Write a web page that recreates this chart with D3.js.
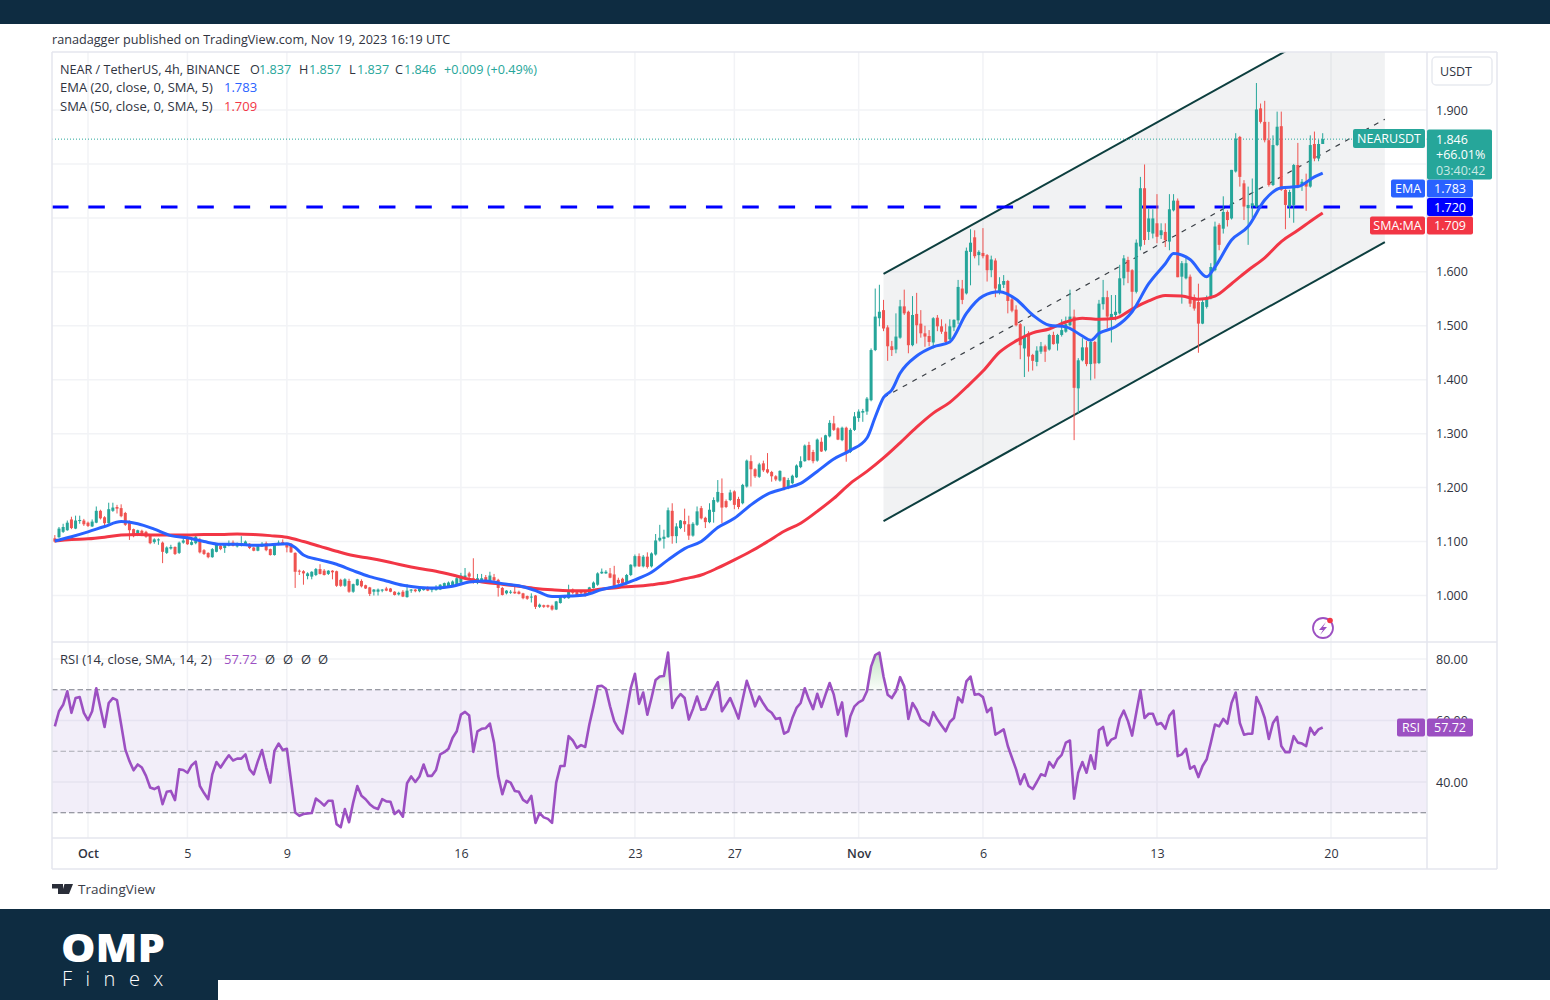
<!DOCTYPE html>
<html>
<head>
<meta charset="utf-8">
<style>
  html, body { margin: 0; padding: 0; background: #fff; }
  svg { display: block; }
  text { font-family: "Open Sans", "Noto Sans", sans-serif; }
</style>
</head>
<body>
<svg id="chart" width="1550" height="1000"></svg>
<script src="https://cdnjs.cloudflare.com/ajax/libs/d3/7.8.5/d3.min.js"></script>
<script type="text/javascript">
// 4h candles, first one is Sep 29 16:00 UTC
const firstCandle = Date.UTC(2023, 8, 29, 16);
const candleHours = 4;

// open, high, low, close
const ohlc = [
  [1.106,1.112,1.098,1.100],[1.108,1.127,1.107,1.124],[1.118,1.133,1.116,1.127],[1.121,1.139,1.120,1.135],
  [1.141,1.146,1.123,1.125],[1.124,1.148,1.123,1.139],[1.138,1.148,1.133,1.140],[1.139,1.142,1.129,1.132],
  [1.135,1.137,1.127,1.129],[1.128,1.141,1.127,1.137],[1.135,1.165,1.134,1.157],[1.157,1.159,1.141,1.143],
  [1.145,1.147,1.128,1.134],[1.134,1.172,1.133,1.160],[1.157,1.172,1.155,1.163],[1.164,1.168,1.152,1.161],
  [1.162,1.169,1.145,1.147],[1.153,1.155,1.129,1.131],[1.137,1.139,1.103,1.121],[1.123,1.124,1.108,1.110],
  [1.112,1.122,1.110,1.121],[1.120,1.122,1.110,1.112],[1.118,1.120,1.107,1.109],[1.112,1.113,1.095,1.097],
  [1.099,1.106,1.096,1.104],[1.103,1.106,1.094,1.104],[1.098,1.100,1.060,1.081],[1.079,1.091,1.077,1.089],
  [1.087,1.094,1.085,1.090],[1.090,1.091,1.075,1.077],[1.079,1.100,1.077,1.098],[1.098,1.106,1.096,1.102],
  [1.106,1.110,1.094,1.095],[1.094,1.103,1.093,1.099],[1.097,1.111,1.095,1.109],[1.103,1.107,1.078,1.080],
  [1.084,1.086,1.075,1.077],[1.079,1.080,1.069,1.071],[1.071,1.088,1.070,1.086],[1.081,1.096,1.080,1.094],
  [1.092,1.094,1.084,1.086],[1.088,1.097,1.079,1.095],[1.092,1.102,1.091,1.096],[1.098,1.102,1.091,1.092],
  [1.091,1.098,1.089,1.097],[1.092,1.110,1.091,1.097],[1.095,1.102,1.093,1.100],[1.096,1.097,1.086,1.088],
  [1.089,1.090,1.082,1.083],[1.083,1.093,1.082,1.092],[1.091,1.099,1.090,1.096],[1.097,1.100,1.082,1.084],
  [1.086,1.087,1.074,1.075],[1.075,1.095,1.074,1.094],[1.094,1.102,1.093,1.098],[1.099,1.104,1.094,1.095],
  [1.095,1.097,1.080,1.089],[1.096,1.097,1.079,1.080],[1.079,1.080,1.014,1.044],[1.046,1.048,1.038,1.045],
  [1.045,1.047,1.020,1.041],[1.036,1.043,1.030,1.041],[1.035,1.045,1.030,1.044],[1.038,1.051,1.036,1.049],
  [1.049,1.058,1.039,1.040],[1.046,1.049,1.037,1.038],[1.040,1.047,1.038,1.046],[1.046,1.047,1.030,1.043],
  [1.045,1.046,1.016,1.018],[1.029,1.031,1.016,1.018],[1.018,1.032,1.016,1.030],[1.027,1.031,1.005,1.007],
  [1.007,1.022,1.005,1.021],[1.019,1.031,1.018,1.030],[1.027,1.030,1.015,1.017],[1.019,1.020,1.012,1.013],
  [1.015,1.016,0.999,1.003],[1.007,1.012,1.000,1.011],[1.007,1.013,1.000,1.011],[1.009,1.012,1.006,1.011],
  [1.013,1.016,1.008,1.009],[1.013,1.014,1.006,1.007],[1.007,1.008,1.000,1.001],[1.002,1.007,1.000,1.005],
  [1.007,1.010,0.997,0.998],[0.997,1.021,0.996,1.009],[1.009,1.012,1.005,1.011],[1.011,1.012,1.006,1.008],
  [1.008,1.014,1.006,1.013],[1.010,1.016,1.009,1.015],[1.015,1.017,1.008,1.009],[1.010,1.014,1.006,1.013],
  [1.010,1.019,1.009,1.016],[1.011,1.021,1.010,1.020],[1.017,1.024,1.016,1.023],[1.017,1.026,1.016,1.024],
  [1.019,1.028,1.018,1.026],[1.020,1.034,1.019,1.032],[1.024,1.042,1.023,1.037],[1.034,1.051,1.032,1.037],
  [1.041,1.044,1.032,1.035],[1.032,1.069,1.022,1.024],[1.023,1.040,1.021,1.032],[1.026,1.040,1.024,1.032],
  [1.034,1.038,1.026,1.028],[1.028,1.044,1.026,1.037],[1.034,1.040,1.027,1.028],[1.029,1.031,0.998,1.014],
  [1.014,1.016,1.000,1.001],[1.004,1.010,1.002,1.009],[1.006,1.010,1.003,1.007],[1.007,1.021,1.003,1.004],
  [1.007,1.009,1.002,1.003],[1.004,1.005,0.993,0.995],[0.999,1.000,0.992,0.994],[0.997,1.004,0.987,0.998],
  [1.000,1.001,0.975,0.979],[0.979,0.985,0.977,0.983],[0.982,0.983,0.977,0.979],[0.982,0.983,0.977,0.979],
  [0.981,0.983,0.972,0.974],[0.974,0.990,0.973,0.989],[0.986,0.998,0.985,0.997],[0.995,1.001,0.994,0.999],
  [0.995,1.020,0.994,1.010],[1.011,1.013,1.002,1.005],[1.007,1.008,0.998,1.001],[1.007,1.009,1.001,1.004],
  [1.007,1.008,0.998,1.001],[1.003,1.016,1.002,1.015],[1.014,1.026,1.013,1.024],[1.020,1.043,1.018,1.041],
  [1.041,1.050,1.040,1.044],[1.041,1.047,1.040,1.044],[1.041,1.051,1.032,1.033],[1.039,1.055,1.013,1.017],
  [1.029,1.033,1.021,1.023],[1.031,1.033,1.020,1.023],[1.022,1.040,1.020,1.038],[1.038,1.058,1.036,1.057],
  [1.054,1.076,1.052,1.073],[1.073,1.078,1.053,1.054],[1.054,1.075,1.052,1.072],[1.072,1.080,1.050,1.053],
  [1.054,1.080,1.052,1.078],[1.076,1.114,1.074,1.102],[1.102,1.131,1.100,1.107],[1.105,1.122,1.087,1.109],
  [1.108,1.163,1.107,1.158],[1.157,1.171,1.096,1.110],[1.110,1.134,1.097,1.128],[1.125,1.140,1.123,1.139],
  [1.138,1.161,1.118,1.132],[1.132,1.148,1.103,1.111],[1.111,1.136,1.109,1.133],[1.131,1.165,1.129,1.156],
  [1.162,1.166,1.141,1.143],[1.144,1.146,1.125,1.136],[1.136,1.171,1.134,1.159],[1.155,1.182,1.135,1.177],
  [1.174,1.214,1.172,1.192],[1.190,1.217,1.134,1.163],[1.175,1.178,1.162,1.164],[1.177,1.196,1.175,1.191],
  [1.193,1.195,1.160,1.168],[1.179,1.183,1.160,1.164],[1.171,1.207,1.169,1.205],[1.202,1.252,1.200,1.250],
  [1.249,1.260,1.202,1.234],[1.234,1.236,1.218,1.221],[1.220,1.246,1.218,1.243],[1.245,1.250,1.229,1.232],
  [1.234,1.264,1.226,1.228],[1.229,1.231,1.211,1.221],[1.221,1.223,1.212,1.215],[1.213,1.232,1.211,1.231],
  [1.219,1.220,1.195,1.199],[1.199,1.218,1.197,1.214],[1.208,1.224,1.206,1.222],[1.219,1.243,1.218,1.241],
  [1.238,1.258,1.236,1.249],[1.249,1.280,1.248,1.278],[1.279,1.285,1.250,1.251],[1.266,1.270,1.245,1.249],
  [1.250,1.291,1.248,1.289],[1.285,1.293,1.266,1.267],[1.269,1.298,1.267,1.297],[1.295,1.325,1.293,1.320],
  [1.319,1.333,1.305,1.307],[1.310,1.312,1.288,1.289],[1.288,1.313,1.286,1.311],[1.311,1.313,1.248,1.266],
  [1.266,1.310,1.264,1.307],[1.307,1.340,1.305,1.332],[1.329,1.345,1.322,1.341],[1.339,1.346,1.322,1.342],
  [1.341,1.368,1.335,1.365],[1.362,1.458,1.360,1.455],[1.455,1.569,1.453,1.517],[1.514,1.576,1.499,1.526],
  [1.529,1.548,1.490,1.495],[1.497,1.501,1.435,1.462],[1.462,1.472,1.444,1.455],[1.456,1.523,1.449,1.480],
  [1.478,1.548,1.476,1.536],[1.536,1.567,1.520,1.523],[1.526,1.528,1.449,1.464],[1.464,1.555,1.462,1.520],
  [1.522,1.561,1.467,1.501],[1.504,1.529,1.478,1.486],[1.486,1.500,1.461,1.480],[1.481,1.492,1.462,1.470],
  [1.469,1.516,1.458,1.514],[1.515,1.520,1.490,1.499],[1.499,1.512,1.485,1.489],[1.489,1.504,1.465,1.470],
  [1.475,1.512,1.473,1.499],[1.497,1.512,1.490,1.511],[1.510,1.585,1.503,1.572],[1.569,1.585,1.540,1.548],
  [1.560,1.645,1.558,1.639],[1.637,1.679,1.575,1.654],[1.664,1.677,1.625,1.629],[1.631,1.640,1.612,1.637],
  [1.635,1.681,1.625,1.629],[1.631,1.633,1.582,1.603],[1.603,1.630,1.590,1.623],[1.621,1.625,1.553,1.569],
  [1.563,1.590,1.558,1.577],[1.576,1.594,1.570,1.583],[1.583,1.585,1.523,1.546],[1.549,1.552,1.525,1.528],
  [1.530,1.538,1.499,1.501],[1.503,1.505,1.438,1.464],[1.458,1.499,1.405,1.480],[1.486,1.490,1.415,1.443],
  [1.446,1.448,1.417,1.435],[1.433,1.462,1.425,1.454],[1.452,1.470,1.448,1.462],[1.462,1.465,1.433,1.452],
  [1.456,1.485,1.454,1.483],[1.483,1.489,1.465,1.466],[1.467,1.485,1.454,1.483],[1.483,1.512,1.480,1.492],
  [1.489,1.517,1.487,1.503],[1.501,1.567,1.499,1.517],[1.517,1.530,1.288,1.385],[1.384,1.440,1.338,1.436],
  [1.436,1.477,1.434,1.460],[1.460,1.472,1.425,1.429],[1.429,1.473,1.399,1.470],[1.470,1.472,1.402,1.430],
  [1.431,1.548,1.429,1.541],[1.540,1.585,1.530,1.553],[1.553,1.565,1.495,1.517],[1.511,1.557,1.469,1.522],
  [1.520,1.557,1.510,1.526],[1.523,1.613,1.521,1.588],[1.588,1.631,1.575,1.625],[1.622,1.628,1.579,1.600],
  [1.603,1.605,1.526,1.563],[1.563,1.660,1.560,1.654],[1.647,1.776,1.640,1.755],[1.755,1.799,1.650,1.659],
  [1.674,1.717,1.659,1.699],[1.671,1.716,1.662,1.699],[1.690,1.744,1.653,1.665],[1.668,1.690,1.661,1.677],
  [1.674,1.690,1.646,1.659],[1.656,1.744,1.640,1.716],[1.714,1.744,1.712,1.732],[1.732,1.736,1.590,1.590],
  [1.591,1.620,1.541,1.616],[1.588,1.628,1.586,1.616],[1.591,1.595,1.535,1.541],[1.553,1.558,1.528,1.532],
  [1.544,1.578,1.450,1.504],[1.504,1.548,1.503,1.544],[1.535,1.556,1.532,1.553],[1.551,1.616,1.549,1.609],
  [1.603,1.693,1.601,1.684],[1.687,1.690,1.640,1.650],[1.680,1.740,1.671,1.711],[1.711,1.714,1.684,1.696],
  [1.699,1.789,1.697,1.789],[1.786,1.857,1.784,1.847],[1.850,1.852,1.758,1.776],[1.764,1.770,1.696,1.721],
  [1.718,1.758,1.650,1.724],[1.722,1.773,1.700,1.727],[1.721,1.950,1.719,1.901],[1.903,1.912,1.875,1.878],
  [1.878,1.917,1.840,1.844],[1.844,1.878,1.758,1.761],[1.761,1.853,1.759,1.835],[1.835,1.897,1.833,1.869],
  [1.870,1.897,1.750,1.752],[1.752,1.754,1.679,1.724],[1.721,1.752,1.700,1.748],[1.724,1.800,1.691,1.798],
  [1.798,1.839,1.755,1.761],[1.761,1.772,1.750,1.767],[1.767,1.782,1.713,1.758],[1.758,1.853,1.756,1.835],
  [1.837,1.860,1.805,1.810],[1.810,1.845,1.805,1.837],[1.837,1.857,1.837,1.846]
];

// [candle number, value]
const emaPoints = [
  [0,1.101],[4,1.109],[8,1.118],[12,1.128],[16,1.137],[20,1.133],[24,1.123],[28,1.111],[32,1.107],[36,1.100],
  [40,1.095],[44,1.095],[48,1.093],[52,1.094],[56,1.096],[58,1.089],[60,1.075],[64,1.066],[68,1.058],[72,1.046],
  [76,1.035],[80,1.027],[84,1.019],[88,1.015],[92,1.014],[96,1.017],[100,1.025],[104,1.027],[108,1.022],[112,1.018],
  [116,1.009],[120,0.998],[124,0.999],[128,1.001],[132,1.011],[136,1.018],[140,1.029],[144,1.043],[148,1.066],[152,1.087],
  [156,1.100],[160,1.126],[164,1.143],[168,1.168],[172,1.188],[176,1.198],[180,1.208],[184,1.230],[188,1.253],[192,1.269],
  [196,1.292],[198,1.331],[200,1.367],[202,1.381],[204,1.412],[208,1.444],[212,1.461],[216,1.470],[220,1.523],[224,1.555],
  [228,1.563],[232,1.549],[236,1.520],[240,1.501],[244,1.498],[248,1.481],[250,1.473],[252,1.486],[256,1.498],[260,1.526],
  [264,1.578],[268,1.615],[270,1.634],[274,1.623],[278,1.591],[280,1.609],[284,1.659],[288,1.684],[292,1.733],[296,1.756],
  [300,1.758],[304,1.776],[306,1.783]
];
const smaPoints = [
  [0,1.101],[4,1.104],[8,1.105],[12,1.108],[16,1.112],[20,1.113],[24,1.112],[28,1.112],[32,1.112],[36,1.113],
  [40,1.113],[44,1.114],[48,1.113],[52,1.111],[56,1.108],[60,1.100],[64,1.091],[68,1.082],[72,1.074],[76,1.069],
  [80,1.063],[84,1.056],[88,1.050],[92,1.045],[96,1.038],[100,1.030],[104,1.024],[108,1.021],[112,1.017],[116,1.013],
  [120,1.0105],[124,1.009],[128,1.009],[132,1.012],[136,1.015],[140,1.017],[144,1.020],[148,1.024],[152,1.031],[156,1.038],
  [160,1.051],[164,1.066],[168,1.082],[172,1.100],[176,1.119],[180,1.134],[184,1.156],[188,1.180],[192,1.208],[196,1.230],
  [200,1.255],[204,1.283],[208,1.312],[212,1.338],[216,1.358],[220,1.386],[224,1.416],[228,1.451],[232,1.472],[236,1.487],
  [240,1.494],[244,1.507],[248,1.514],[252,1.512],[256,1.514],[260,1.531],[264,1.546],[268,1.556],[272,1.555],[276,1.549],
  [280,1.555],[284,1.578],[288,1.603],[292,1.626],[296,1.656],[300,1.677],[304,1.699],[306,1.709]
];

// one RSI value per candle
const rsiValues = [
  58.1,63.0,65.1,69.5,62.5,67.3,67.6,62.5,60.1,63.0,70.5,64.1,57.9,65.7,67.3,66.6,58.7,50.6,46.8,43.8,
  45.7,44.7,42.0,38.2,37.7,38.4,32.8,36.8,37.1,34.1,44.1,43.9,43.0,45.4,46.6,38.7,36.4,34.4,42.5,46.5,
  44.7,46.8,48.7,47.0,47.6,47.6,49.0,44.1,42.5,46.8,50.4,44.7,39.8,50.1,52.5,50.4,50.8,40.4,30.1,29.0,
  29.6,29.8,29.9,34.6,33.6,32.3,33.9,33.9,26.3,25.3,31.2,26.9,33.3,38.7,35.5,34.4,32.8,31.7,31.2,34.4,
  33.7,33.6,29.6,30.7,28.7,39.6,41.8,40.0,41.8,45.7,42.0,42.0,43.9,49.0,49.7,50.8,54.4,56.5,61.9,62.8,
  61.6,49.8,56.5,57.3,57.5,59.0,52.8,42.0,36.0,40.4,39.8,37.1,36.8,34.2,33.3,35.5,26.7,29.9,28.5,28.0,
  26.7,39.8,45.2,45.2,54.9,53.5,51.1,52.0,51.4,58.7,64.6,71.1,71.3,70.3,64.6,59.8,57.3,55.8,63.0,70.5,
  75.2,65.4,69.1,61.9,67.3,73.2,74.3,74.5,82.1,64.1,67.0,68.6,67.3,60.3,63.7,67.8,63.5,63.7,66.8,70.0,
  72.5,63.0,65.1,67.3,64.1,60.6,66.8,72.9,68.9,64.6,67.8,65.5,63.5,62.5,60.5,60.8,55.7,56.5,60.8,64.1,
  65.7,70.5,66.8,63.7,68.7,64.4,68.4,72.2,68.4,61.9,65.9,54.9,61.4,64.6,65.9,66.6,69.5,77.5,81.3,82.1,
  74.3,68.4,67.3,69.5,74.1,71.1,60.5,65.7,63.5,60.3,59.5,58.4,62.7,60.3,58.4,56.5,59.5,60.8,67.5,65.9,
  72.7,74.3,68.4,68.6,67.6,62.7,64.1,55.4,56.2,57.1,51.7,47.9,44.1,39.3,42.5,38.7,37.7,40.0,42.5,42.0,
  46.5,44.7,47.4,48.8,52.8,53.5,34.6,43.0,46.5,43.0,48.7,44.3,56.8,57.9,51.9,53.8,54.4,60.5,63.2,59.8,
  55.1,62.5,69.8,60.8,62.2,62.2,58.7,59.2,57.3,61.6,63.2,48.4,49.0,50.8,44.3,45.2,41.6,45.2,47.4,52.8,
  58.7,58.1,60.5,59.0,65.7,69.1,59.2,55.4,55.7,55.7,67.6,64.8,60.8,54.0,59.2,61.2,51.7,49.7,49.7,54.9,
  52.8,52.5,51.7,57.6,55.4,57.1,57.72
];

// parallel channel, [time, lower, middle, upper]
const channelStart = [Date.UTC(2023, 10, 2), 1.138, 1.367, 1.596];
const channelEnd = [Date.UTC(2023, 10, 22, 4), 1.655, 1.883, 2.111];

const horizontalLevel = 1.720;
const lastPrice = 1.846;
const emaLast = 1.783;
const smaLast = 1.709;
const rsiLast = 57.72;

const priceTicks = [1.0, 1.1, 1.2, 1.3, 1.4, 1.5, 1.6, 1.9];
const priceGrid = [1.0, 1.1, 1.2, 1.3, 1.4, 1.5, 1.6, 1.7, 1.8, 1.9];
const rsiTicks = [80, 60, 40];
const rsiLevels = [70, 50, 30];
const timeTicks = [[2023,9,1],[2023,9,5],[2023,9,9],[2023,9,16],[2023,9,23],[2023,9,27],[2023,10,1],[2023,10,6],[2023,10,13],[2023,10,20]]
  .map(d => Date.UTC(d[0], d[1], d[2]));
const timeLabels = ["Oct", "5", "9", "16", "23", "27", "Nov", "6", "13", "20"];

const teal = "#26a69a", red = "#f23645", blue = "#2962ff", purple = "#9c50c2", ink = "#30343f";

const svg = d3.select("#chart");
const left = 52, right = 1427, outerRight = 1497, top_ = 52, paneBottom = 642, rsiBottom = 838, bottom = 869;

const x = d3.scaleTime().domain([Date.UTC(2023, 9, 1), Date.UTC(2023, 10, 20)]).range([88, 1331]);
const y = d3.scaleLinear().domain([1.0, 1.9]).range([595.5, 110]);
const yRsi = d3.scaleLinear().domain([40, 80]).range([782, 659]);
const candleTime = i => firstCandle + i * candleHours * 3600000;

// page furniture
svg.append("rect").attr("width", 1550).attr("height", 24).attr("fill", "#0e2c41");
svg.append("rect").attr("y", 909).attr("width", 1550).attr("height", 71).attr("fill", "#0e2c41");
svg.append("rect").attr("y", 980).attr("width", 218).attr("height", 20).attr("fill", "#0e2c41");

svg.append("text").attr("x", 52).attr("y", 44).attr("font-size", 12.65).attr("fill", ink)
  .text("ranadagger published on TradingView.com, Nov 19, 2023 16:19 UTC");

const defs = svg.append("defs");
defs.append("clipPath").attr("id", "pricePane").append("rect")
  .attr("x", left).attr("y", top_).attr("width", right - left).attr("height", paneBottom - top_);
defs.append("clipPath").attr("id", "rsiPane").append("rect")
  .attr("x", left).attr("y", paneBottom).attr("width", right - left).attr("height", rsiBottom - paneBottom);
const overFade = defs.append("linearGradient").attr("id", "overFade").attr("x1", 0).attr("x2", 0).attr("y1", 0).attr("y2", 1);
overFade.append("stop").attr("offset", "0%").attr("stop-color", "#4caf50").attr("stop-opacity", 0.35);
overFade.append("stop").attr("offset", "100%").attr("stop-color", "#4caf50").attr("stop-opacity", 0.03);

// grid
const grid = svg.append("g").attr("stroke", "#f2f3f6").attr("stroke-width", 1.5);
grid.selectAll(".gx").data(timeTicks).join("line").attr("class", "gx")
  .attr("x1", d => x(d)).attr("x2", d => x(d)).attr("y1", top_).attr("y2", rsiBottom);
grid.selectAll(".gy").data(priceGrid).join("line").attr("class", "gy")
  .attr("x1", left).attr("x2", right).attr("y1", d => y(d)).attr("y2", d => y(d));
grid.selectAll(".gr").data(rsiTicks).join("line").attr("class", "gr")
  .attr("x1", left).attr("x2", right).attr("y1", d => yRsi(d)).attr("y2", d => yRsi(d));

// price pane
const pane = svg.append("g").attr("clip-path", "url(#pricePane)");

pane.append("path").datum([channelStart, channelEnd])
  .attr("fill", "#787b86").attr("fill-opacity", 0.1)
  .attr("d", d3.area().x(d => x(d[0])).y0(d => y(d[1])).y1(d => y(d[3])));
[1, 3].forEach(k => {
  pane.append("line").attr("stroke", "#0d3f3f").attr("stroke-width", 2)
    .attr("x1", x(channelStart[0])).attr("y1", y(channelStart[k]))
    .attr("x2", x(channelEnd[0])).attr("y2", y(channelEnd[k]));
});
pane.append("line").attr("stroke", "#3a3f45").attr("stroke-width", 1.2).attr("stroke-dasharray", "5 6")
  .attr("x1", x(channelStart[0])).attr("y1", y(channelStart[2]))
  .attr("x2", x(channelEnd[0])).attr("y2", y(channelEnd[2]));

pane.append("line").attr("stroke", "#0000ff").attr("stroke-width", 3).attr("stroke-dasharray", "16.5 19.83")
  .attr("x1", left).attr("x2", right).attr("y1", y(horizontalLevel)).attr("y2", y(horizontalLevel));
pane.append("line").attr("stroke", teal).attr("stroke-width", 1).attr("stroke-dasharray", "1 2")
  .attr("x1", left).attr("x2", right).attr("y1", y(lastPrice)).attr("y2", y(lastPrice));

const isUp = d => d[3] >= d[0];
const candles = pane.selectAll(".candle").data(ohlc).join("g").attr("class", "candle")
  .attr("fill", d => isUp(d) ? teal : "#ef5350").attr("stroke", d => isUp(d) ? teal : "#ef5350");
candles.append("line").attr("stroke-width", 1)
  .attr("x1", (d, i) => x(candleTime(i))).attr("x2", (d, i) => x(candleTime(i)))
  .attr("y1", d => y(d[1])).attr("y2", d => y(d[2]));
candles.append("rect").attr("stroke", "none")
  .attr("x", (d, i) => x(candleTime(i)) - 1.5).attr("width", 3)
  .attr("y", d => y(Math.max(d[0], d[3])))
  .attr("height", d => Math.max(1, Math.abs(y(d[0]) - y(d[3]))));

const maLine = d3.line().x(d => x(candleTime(d[0]))).y(d => y(d[1])).curve(d3.curveMonotoneX);
pane.append("path").datum(smaPoints).attr("fill", "none").attr("stroke", red).attr("stroke-width", 3).attr("d", maLine);
pane.append("path").datum(emaPoints).attr("fill", "none").attr("stroke", blue).attr("stroke-width", 3).attr("d", maLine);

// RSI pane
const rsiPane = svg.append("g").attr("clip-path", "url(#rsiPane)");
rsiPane.append("rect").attr("x", left).attr("width", right - left)
  .attr("y", yRsi(70)).attr("height", yRsi(30) - yRsi(70)).attr("fill", "#7e57c2").attr("fill-opacity", 0.1);
rsiPane.selectAll(".level").data(rsiLevels).join("line").attr("class", "level")
  .attr("x1", left).attr("x2", right).attr("y1", d => yRsi(d)).attr("y2", d => yRsi(d))
  .attr("stroke", d => d === 50 ? "#a9abb2" : "#787b86").attr("stroke-width", 1).attr("stroke-dasharray", "5.5 3");
rsiPane.append("path").datum(rsiValues).attr("fill", "url(#overFade)")
  .attr("d", d3.area().x((d, i) => x(candleTime(i))).y0(yRsi(70)).y1(d => yRsi(Math.max(d, 70))));
rsiPane.append("path").datum(rsiValues).attr("fill", "none").attr("stroke", purple).attr("stroke-width", 2.6)
  .attr("stroke-linejoin", "round")
  .attr("d", d3.line().x((d, i) => x(candleTime(i))).y(d => yRsi(d)));

// frame
const frame = svg.append("g").attr("stroke", "#e4e6ee").attr("stroke-width", 1.5);
[[left, top_, outerRight, top_], [left, bottom, outerRight, bottom], [left, top_, left, bottom],
 [outerRight, top_, outerRight, bottom], [right, top_, right, bottom],
 [left, paneBottom, outerRight, paneBottom], [left, rsiBottom, right, rsiBottom]].forEach(s => {
  frame.append("line").attr("x1", s[0]).attr("y1", s[1]).attr("x2", s[2]).attr("y2", s[3]);
});

// axes
const cleanAxis = g => {
  g.select(".domain").remove();
  g.selectAll(".tick line").remove();
  g.selectAll("text").attr("fill", ink).attr("font-size", 12.5).attr("font-family", null);
};
svg.append("g").attr("transform", `translate(${right},0)`)
  .call(d3.axisRight(y).tickValues(priceTicks).tickFormat(d3.format(".3f")).tickSize(0).tickPadding(9))
  .call(cleanAxis);
svg.append("g").attr("transform", `translate(${right},0)`)
  .call(d3.axisRight(yRsi).tickValues(rsiTicks).tickFormat(d3.format(".2f")).tickSize(0).tickPadding(9))
  .call(cleanAxis);
svg.append("g").attr("transform", `translate(0,${rsiBottom + 11})`)
  .call(d3.axisBottom(x).tickValues(timeTicks).tickFormat((d, i) => timeLabels[i]).tickSize(0).tickPadding(0))
  .call(cleanAxis)
  .selectAll("text").attr("font-weight", (d, i) => timeLabels[i] === "Oct" || timeLabels[i] === "Nov" ? 600 : 400);

// legend text
const legend = (xPos, yPos, txt, color, size) => svg.append("text").attr("x", xPos).attr("y", yPos)
  .attr("font-size", size || 13).attr("fill", color || ink).text(txt);
legend(60, 73.5, "NEAR / TetherUS, 4h, BINANCE", ink, 12.65);
legend(250, 73.5, "O", ink, 12.65); legend(259, 73.5, "1.837", teal, 12.65);
legend(299, 73.5, "H", ink, 12.65); legend(309, 73.5, "1.857", teal, 12.65);
legend(349, 73.5, "L", ink, 12.65); legend(357, 73.5, "1.837", teal, 12.65);
legend(395, 73.5, "C", ink, 12.65); legend(404, 73.5, "1.846", teal, 12.65);
legend(444, 73.5, "+0.009 (+0.49%)", teal, 12.65);
legend(60, 92, "EMA (20, close, 0, SMA, 5)"); legend(224, 92, "1.783", blue);
legend(60, 110.5, "SMA (50, close, 0, SMA, 5)"); legend(224, 110.5, "1.709", red);
legend(60, 664, "RSI (14, close, SMA, 14, 2)"); legend(224, 664, "57.72", purple);
[265, 283, 301, 318].forEach(p => legend(p, 664, "Ø"));

// right side tags, stacked clear of each other as the platform does it
const tag = (x0, x1, yMid, color, txt, h) => {
  const hh = h || 18;
  svg.append("rect").attr("x", x0).attr("width", x1 - x0).attr("y", yMid - hh / 2).attr("height", hh).attr("rx", 2).attr("fill", color);
  svg.append("text").attr("x", (x0 + x1) / 2).attr("y", yMid + 4.5).attr("text-anchor", "middle")
    .attr("font-size", 12.5).attr("fill", "#fff").text(txt);
};
const emaTagY = 188.5, levelTagY = 207, smaTagY = 225.5;
tag(1353, 1425, 138.5, teal, "NEARUSDT", 19);
tag(1391, 1425, emaTagY, blue, "EMA");
tag(1427, 1473, emaTagY, blue, d3.format(".3f")(emaLast));
tag(1427, 1473, levelTagY, "#0000ff", d3.format(".3f")(horizontalLevel));
tag(1370, 1425, smaTagY, red, "SMA:MA");
tag(1427, 1473, smaTagY, red, d3.format(".3f")(smaLast));
tag(1397, 1425, yRsi(rsiLast), purple, "RSI");
tag(1427, 1473, yRsi(rsiLast), purple, d3.format(".2f")(rsiLast));

svg.append("rect").attr("x", 1427).attr("y", 129.5).attr("width", 65).attr("height", 50).attr("rx", 2).attr("fill", teal);
[[143.5, "1.846", "#fff"], [159, "+66.01%", "#fff"], [174.5, "03:40:42", "#c9e9e5"]].forEach(r => {
  svg.append("text").attr("x", 1436).attr("y", r[0]).attr("font-size", 12.5).attr("fill", r[2]).text(r[1]);
});

svg.append("rect").attr("x", 1432).attr("y", 57).attr("width", 60).attr("height", 28).attr("rx", 4)
  .attr("fill", "#fff").attr("stroke", "#e8eaf0").attr("stroke-width", 1.5);
svg.append("text").attr("x", 1456).attr("y", 76).attr("text-anchor", "middle").attr("font-size", 12.5).attr("fill", ink).text("USDT");

// lightning badge
svg.append("circle").attr("cx", 1323).attr("cy", 628).attr("r", 10).attr("fill", "#fff")
  .attr("stroke", purple).attr("stroke-width", 1.8);
svg.append("path").attr("d", "M1326 622 L1319 630 L1323 630 L1320 635 L1327 627 L1323 627 Z").attr("fill", purple);
svg.append("circle").attr("cx", 1330).attr("cy", 620.5).attr("r", 2.8).attr("fill", red);

// TradingView mark
svg.append("path").attr("fill", "#2a2e39")
  .attr("d", "M52 884 H63 V894 H58 V888.5 H52 Z M64.5 884 H68 L65 894 H61.5 Z M68 884 H73 L69 894 H64.5 Z");
svg.append("circle").attr("cx", 66.3).attr("cy", 886).attr("r", 1.8).attr("fill", "#2a2e39");
svg.append("text").attr("x", 78).attr("y", 894).attr("font-size", 13.5).attr("fill", "#3a3e4a").text("TradingView");

// OMP Finex mark
svg.append("text").attr("x", 61).attr("y", 962).attr("font-family", "Lato").attr("font-weight", 900)
  .attr("font-size", 38).attr("textLength", 104).attr("lengthAdjust", "spacingAndGlyphs").attr("fill", "#fff").text("OMP");
svg.append("text").attr("x", 62).attr("y", 986).attr("font-family", "Lato").attr("font-weight", 300)
  .attr("font-size", 20).attr("letter-spacing", 13.5).attr("fill", "#fff").text("Finex");
</script>
</body>
</html>
